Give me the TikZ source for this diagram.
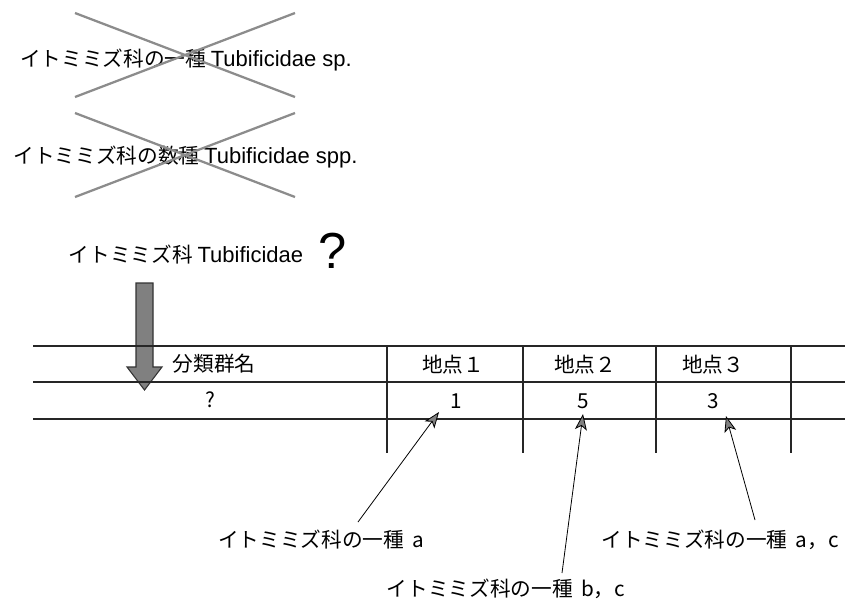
\documentclass[tikz,border=0pt]{standalone}
\usepackage{fontspec}
\setmainfont{Noto Sans CJK JP}
\newfontfamily\lat{Liberation Sans}
\usetikzlibrary{arrows.meta}
\begin{document}
\begin{tikzpicture}[x=0.75pt,y=-0.75pt,
  txt/.style={inner sep=0pt, font=\fontsize{15.5}{18}\selectfont},
  latin/.style={font=\lat\fontsize{16.5}{18}\selectfont},
  cross/.style={draw=black!45, line width=1.7pt},
  rule/.style={draw=black!85, line width=1pt},
  pointer/.style={draw=black, line width=0.6pt, -{Stealth[length=12pt,width=9pt,inset=3pt,fill=black!50]}},
  bigarrow/.style={fill=black!50, draw=black!80, line width=0.8pt}]
\useasboundingbox (0,0) rectangle (845,601);

% crossed-out names
\node[txt] (n1) at (186,60) {イトミミズ科の一種 {\lat\fontsize{16.5}{18}\selectfont Tubificidae sp.}};
\draw[cross] (75,13) -- (295,97);
\draw[cross] (75,97) -- (295,13);
\node[txt] (n2) at (185.5,157) {イトミミズ科の数種 {\lat\fontsize{16.5}{18}\selectfont Tubificidae spp.}};
\draw[cross] (75,113) -- (295,197);
\draw[cross] (75,197) -- (295,113);

% accepted name
\node[txt] (n3) at (186,255) {イトミミズ科 {\lat\fontsize{16.5}{18}\selectfont Tubificidae}};
\node[inner sep=0pt, font=\lat\fontsize{38}{40}\selectfont] (q) at (333,251) {?};

% big arrow
\draw[bigarrow] (136,283) -- (153,283) -- (153,367) -- (162,367) -- (144.5,390)
  -- (127,367) -- (136,367) -- cycle;

% table rules
\draw[rule] (33,346) -- (845,346);
\draw[rule] (33,382) -- (845,382);
\draw[rule, line width=1.3pt] (33,419) -- (845,419);
\foreach \x in {387,523,656,791} \draw[rule] (\x,346) -- (\x,453);

% table text
\node[txt] (h0) at (214,364) {分類群名};
\node[txt] (h1) at (453,365) {地点１};
\node[txt] (h2) at (585,365) {地点２};
\node[txt] (h3) at (713,365) {地点３};
\node[txt] (v0) at (210,400) {?};
\node[txt] (v1) at (456,401) {1};
\node[txt] (v2) at (583,401) {5};
\node[txt] (v3) at (713,401) {3};

% labels and pointers
\node[txt] (la) at (321,540) {イトミミズ科の一種\hspace{0.4em}a};
\node[txt] (lb) at (506,589) {イトミミズ科の一種\hspace{0.4em}b，c};
\node[txt] (lc) at (720,540) {イトミミズ科の一種\hspace{0.4em}a，c};
\coordinate (sa) at (358,522);
\coordinate (ta) at (439,412);
\coordinate (sb) at (562,573);
\coordinate (tb) at (583,414);
\coordinate (sc) at (755,520);
\coordinate (tc) at (726,416);
\draw[pointer] (sa) -- (ta);
\draw[pointer] (sb) -- (tb);
\draw[pointer] (sc) -- (tc);
\end{tikzpicture}
\end{document}
